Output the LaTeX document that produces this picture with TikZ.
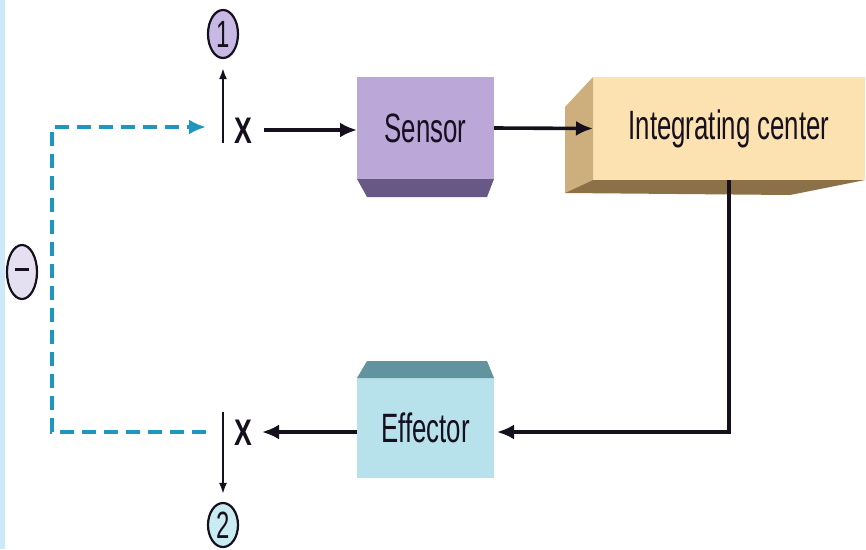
\documentclass[tikz,border=0pt]{standalone}
\usepackage{fontspec}
\setmainfont{Liberation Sans}
\newfontfamily\condfont[FakeStretch=0.63]{Liberation Sans}
\usetikzlibrary{arrows.meta,calc,shapes.geometric}
\definecolor{stripblue}{RGB}{205,232,248}
\definecolor{sensorface}{RGB}{187,168,217}
\definecolor{sensorbevel}{RGB}{104,88,134}
\definecolor{intface}{RGB}{251,226,176}
\definecolor{intside}{RGB}{205,175,125}
\definecolor{intbottom}{RGB}{140,112,72}
\definecolor{effface}{RGB}{183,226,236}
\definecolor{effbevel}{RGB}{98,148,160}
\definecolor{dashblue}{RGB}{30,150,190}
\definecolor{circpurple}{RGB}{200,185,228}
\definecolor{circminus}{RGB}{228,224,242}
\definecolor{circblue}{RGB}{200,236,242}
\definecolor{ink}{RGB}{22,16,30}
\tikzset{
  x=1pt, y=-1pt,
  face/.style={rectangle, inner sep=0pt, outer sep=0pt, font=\condfont\fontsize{41}{41}\selectfont, text=ink},
  conn/.style={line width=3.6pt, draw=ink, -{Latex[length=17pt,width=15pt]}},
  thinconn/.style={line width=2pt, draw=ink, -{Latex[length=11pt,width=8pt]}},
  dconn/.style={line width=3.6pt, draw=dashblue, dash pattern=on 14pt off 8pt, -{Latex[length=17pt,width=15pt]}},
  xmark/.style={inner sep=0pt, text=ink, font=\fontsize{37}{37}\selectfont\bfseries, xscale=0.72},
  numcirc/.style={ellipse, draw=ink, line width=2.2pt, minimum width=30pt, inner sep=0pt, text=ink, font=\condfont\fontsize{38}{38}\selectfont}
}
\begin{document}
\begin{tikzpicture}
\useasboundingbox (0,0) rectangle (866,549);
\fill[white] (0,0) rectangle (866,549);
\fill[stripblue] (0,0) rectangle (5,549);

% Sensor
\node[face, fill=sensorface, minimum width=137pt, minimum height=102pt] (s) at (425.5,128) {Sensor};
\fill[sensorbevel] (s.south west) -- ++(10,18) -- ($(s.south east)+(-7,18)$) -- (s.south east) -- cycle;

% Integrating center
\node[face, fill=intface, minimum width=272pt, minimum height=103pt] (i) at (729,128.5) {Integrating center};
\fill[intside] (i.north west) -- ++(-28,30) -- ($(i.south west)+(-28,13)$) -- (i.south west) -- cycle;
\fill[intbottom] (i.south west) -- ++(-28,13) -- ($(i.south east)+(-75,15)$) -- (i.south east) -- cycle;

% Effector
\node[face, fill=effface, minimum width=137pt, minimum height=100pt] (e) at (425.5,428) {Effector};
\fill[effbevel] (e.north west) -- ++(10,-17) -- ($(e.north east)+(-7,-17)$) -- (e.north east) -- cycle;

% X labels
\node[xmark] (x1) at (243,131) {X};
\node[xmark] (x2) at (243,433) {X};

% numbered circles
\node[numcirc, fill=circpurple, minimum height=48pt] (c1) at (223,34) {1};
\node[numcirc, fill=circblue, minimum height=44pt] (c2) at (223,525) {2};
\node[numcirc, fill=circminus, minimum height=54pt] (cm) at (22,272) {\rule[5pt]{14pt}{3.5pt}};

% coordinates
\coordinate (v1) at (223,143);
\coordinate (v2) at (223,412);
\coordinate (d0) at (206,127);
\coordinate (d1) at (52,127);
\coordinate (d2) at (52,432);
\coordinate (d3) at (206,432);
\coordinate (a1) at (264,130);
\coordinate (a2) at (262,432);

% connectors
\draw[conn] (a1) -- (s.west |- a1);
\draw[conn] (s.east) -- (i.west);
\draw[conn, shorten >=3pt] (i.south) |- (e.east |- a2);
\draw[conn] (e.west |- a2) -- (a2);
\draw[thinconn, shorten >=9pt] (v1) -- (c1);
\draw[thinconn, shorten >=8pt] (v2) -- (c2);
\draw[dconn] (d3) -- (d2) -- (d1) -- (d0);
\end{tikzpicture}
\end{document}
